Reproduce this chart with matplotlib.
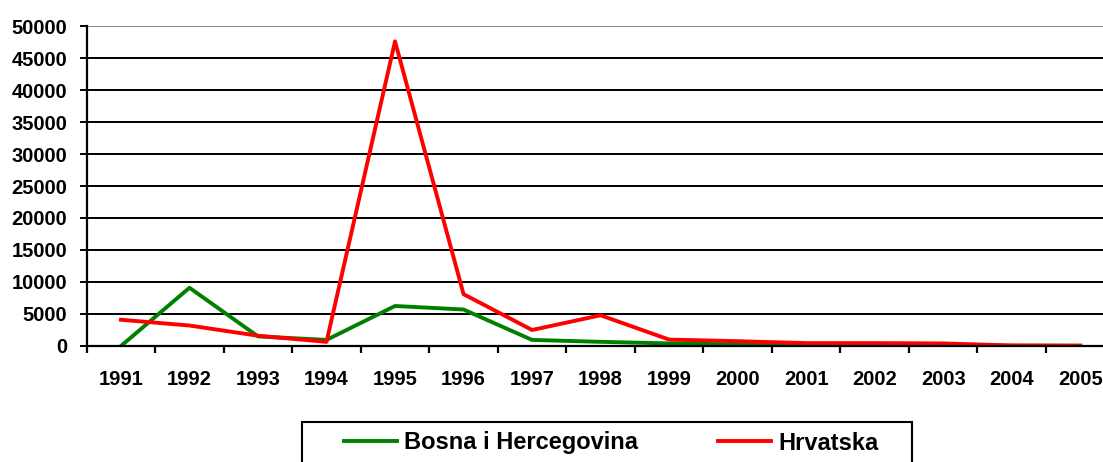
import matplotlib.pyplot as plt
from matplotlib.patches import Rectangle

plt.rcParams['font.family'] = ['Liberation Sans', 'DejaVu Sans']
plt.rcParams['font.weight'] = 'bold'

years = ['1991', '1992', '1993', '1994', '1995', '1996', '1997', '1998',
         '1999', '2000', '2001', '2002', '2003', '2004', '2005']
bih = [0, 9100, 1500, 950, 6250, 5700, 950, 650, 400, 250, 150, 120, 100, 50, 40]
hrv = [4100, 3200, 1600, 650, 47600, 8100, 2500, 4800, 1000, 750, 450, 450, 400, 80, 50]
series_names = ['Bosna i Hercegovina', 'Hrvatska']

fig = plt.figure(figsize=(11.03, 4.62), dpi=100)
ax = fig.add_axes([0.0786, 0.2511, 0.9318, 0.6926])

x = list(range(len(years)))
ax.plot(x, bih, color='#008000', lw=2.8, label=series_names[0])
ax.plot(x, hrv, color='#ff0000', lw=2.8, label=series_names[1])

ax.set_xlim(-0.5, len(years) - 0.5)
ax.set_ylim(0, 50000)
ax.set_yticks(range(0, 50001, 5000))
ax.set_xticks(x)
ax.set_xticklabels(years)
ax.set_xticks([i - 0.5 for i in range(len(years) + 1)], minor=True)

ax.yaxis.grid(True, color='black', lw=1.4)
ax.set_axisbelow(True)
# top gridline looks lighter in the original
ax.get_ygridlines()[-1].set_color('#888888')
for s in ['top', 'right']:
    ax.spines[s].set_visible(False)
for s in ['left', 'bottom']:
    ax.spines[s].set_linewidth(1.6)

ax.tick_params(axis='y', direction='out', length=5, width=1.4, pad=9, labelsize=14.5)
ax.tick_params(axis='x', which='major', length=0, pad=17, labelsize=14.5)
ax.tick_params(axis='x', which='minor', direction='out', length=5, width=1.6)

fig.legend(loc='center', bbox_to_anchor=(611 / 1103, 1 - 443 / 462), ncol=2,
           frameon=False, fontsize=17, handlelength=2.25, handletextpad=0.3,
           columnspacing=3.4)
fig.patches.append(Rectangle((302 / 1103, -0.05), 610 / 1103, (1 - 422 / 462) + 0.05,
                             transform=fig.transFigure, fill=False,
                             edgecolor='black', lw=1.5))

plt.savefig('out.png', dpi=100)
